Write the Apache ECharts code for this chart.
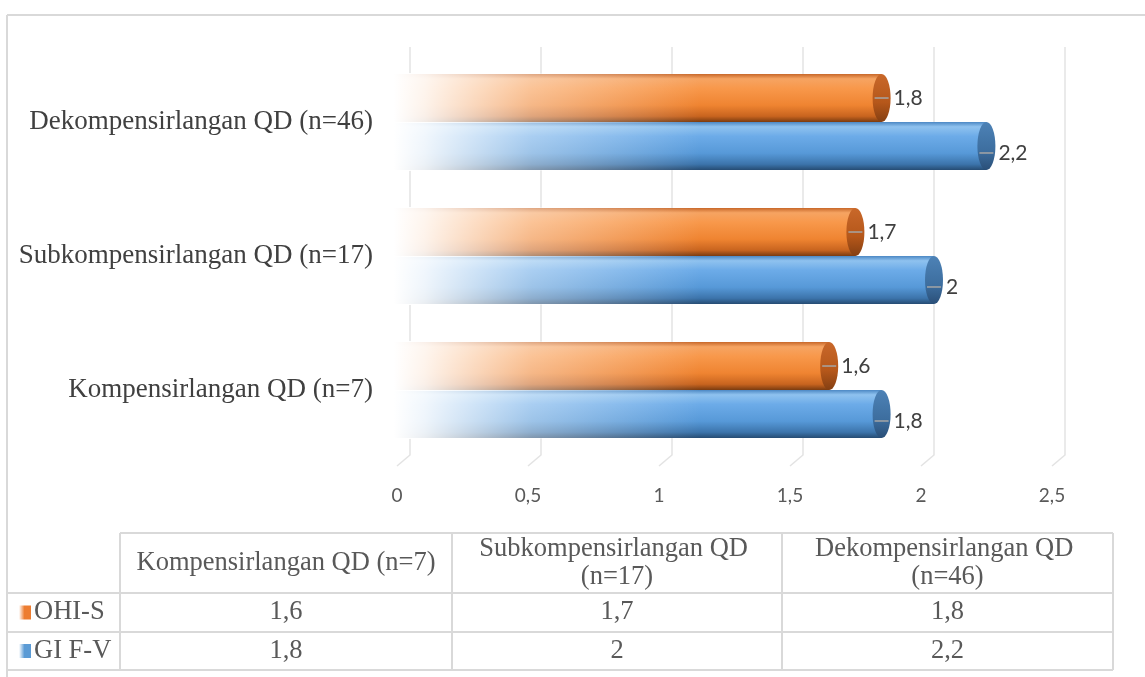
<!DOCTYPE html>
<html>
<head>
<meta charset="utf-8">
<script src="https://cdn.jsdelivr.net/npm/echarts@6/dist/echarts.min.js"></script>
<style>
  html, body { margin: 0; padding: 0; background: #ffffff; }
  #chart { width: 1145px; height: 677px; }
</style>
</head>
<body>
<div id="chart"></div>
<script>
// Groups (bottom to top on the chart, left to right in the table)
const categories = ['Kompensirlangan QD (n=7)', 'Subkompensirlangan QD (n=17)', 'Dekompensirlangan QD (n=46)'];
const seriesNames = ['OHI-S', 'GI F-V'];
const ohisValues = [1.6, 1.7, 1.8];
const gifvValues = [1.8, 2, 2.2];
const xTicks = [0, 0.5, 1, 1.5, 2, 2.5];

const fmt = v => String(v).replace('.', ',');
const SERIF = '"Liberation Serif", "Times New Roman", serif';
const SANS = 'Lato, "Open Sans", sans-serif';

const palettes = {
  orange: {
    body: [
      { offset: 0, color: '#c8682a' }, { offset: 0.1, color: '#f6a462' },
      { offset: 0.3, color: '#f8984b' }, { offset: 0.65, color: '#ef8431' },
      { offset: 0.88, color: '#c8641f' }, { offset: 1, color: '#7a3b10' }
    ],
    face: [
      { offset: 0, color: '#c9682a' }, { offset: 0.6, color: '#b5571a' }, { offset: 1, color: '#843f12' }
    ],
    key: '#ed7d31'
  },
  blue: {
    body: [
      { offset: 0, color: '#4c88c4' }, { offset: 0.1, color: '#8fc2ef' },
      { offset: 0.3, color: '#6cabe8' }, { offset: 0.65, color: '#5799d8' },
      { offset: 0.88, color: '#3c74ab' }, { offset: 1, color: '#264c73' }
    ],
    face: [
      { offset: 0, color: '#4d82b6' }, { offset: 0.6, color: '#3d6e9f' }, { offset: 1, color: '#2a4f78' }
    ],
    key: '#5b9bd5'
  }
};

// Cylinder bar: shaded body that fades out towards zero, elliptical end face, value label
function cylinder(pal, side, labelShift) {
  return function (params, api) {
    const v = api.value(0);
    const c = api.value(1);
    const end = api.coord([v, c]);
    const zero = api.coord([0, c]);
    const band = api.size([0, 1])[1];
    const h = band * 0.358;
    const yTop = side < 0 ? end[1] - h : end[1];
    const cy = yTop + h / 2;
    const x0 = zero[0] - 16;
    const ly = cy + labelShift;
    return {
      type: 'group',
      children: [
        {
          type: 'rect',
          shape: { x: x0, y: yTop, width: end[0] - x0, height: h },
          style: { fill: { type: 'linear', x: 0, y: 0, x2: 0, y2: 1, colorStops: pal.body } }
        },
        {
          type: 'rect',
          shape: { x: x0, y: yTop - 1, width: end[0] - x0, height: h + 2 },
          style: {
            fill: {
              type: 'linear', global: true, x: x0, y: 0, x2: zero[0] + 290, y2: 0,
              colorStops: [
                { offset: 0, color: 'rgba(255,255,255,1)' },
                { offset: 0.1, color: 'rgba(255,255,255,0.9)' },
                { offset: 0.45, color: 'rgba(255,255,255,0.42)' },
                { offset: 1, color: 'rgba(255,255,255,0)' }
              ]
            }
          }
        },
        {
          type: 'circle',
          x: end[0], y: cy, scaleX: 9 / (h / 2),
          shape: { cx: 0, cy: 0, r: h / 2 },
          style: { fill: { type: 'linear', x: 0, y: 0, x2: 0, y2: 1, colorStops: pal.face } }
        },
        {
          type: 'line',
          shape: { x1: end[0] - 7, y1: ly, x2: end[0] + 7, y2: ly },
          style: { stroke: '#a6a6a6', lineWidth: 1.5 }
        },
        {
          type: 'text',
          x: end[0] + 12, y: ly,
          style: {
            text: fmt(v), fill: '#404040', font: '21px ' + SANS,
            align: 'left', verticalAlign: 'middle'
          }
        }
      ]
    };
  };
}

// Back-wall gridlines with a short slanted floor segment
function gridRender(params, api) {
  const p = api.coord([api.value(0), 0]);
  const cs = params.coordSys;
  const bottom = cs.y + cs.height - 2;
  return {
    type: 'polyline',
    shape: { points: [[p[0], cs.y - 8], [p[0], bottom], [p[0] - 13, bottom + 11]] },
    style: { stroke: '#e3e3e3', lineWidth: 1.5, fill: null }
  };
}

// Data table beneath the chart
function buildTable() {
  const line = '#d9d9d9';
  const colX = [120, 452, 782, 1113];
  const rowY = [533, 593, 632, 670];
  const els = [];
  const hl = (x1, x2, y) => els.push({ type: 'line', shape: { x1, y1: y, x2, y2: y }, style: { stroke: line, lineWidth: 2 } });
  const vl = (x, y1, y2) => els.push({ type: 'line', shape: { x1: x, y1, x2: x, y2 }, style: { stroke: line, lineWidth: 2 } });

  // outer frame
  hl(7, 1145, 15);
  vl(7, 15, 677);
  // table grid
  hl(colX[0], colX[3], rowY[0]);
  hl(7, colX[3], rowY[1]);
  hl(7, colX[3], rowY[2]);
  hl(7, colX[3], rowY[3]);
  colX.forEach(x => vl(x, rowY[0], rowY[3]));

  const cellText = (text, cx, cy) => els.push({
    type: 'text', x: cx, y: cy,
    style: {
      text, fill: '#595959', font: '26.5px ' + SERIF, width: 318, overflow: 'break',
      lineHeight: 28, align: 'center', verticalAlign: 'middle'
    }
  });

  categories.forEach((cat, i) => {
    const cx = (colX[i] + colX[i + 1]) / 2;
    cellText(cat, cx, (rowY[0] + rowY[1]) / 2);
    cellText(fmt(ohisValues[i]), cx, (rowY[1] + rowY[2]) / 2);
    cellText(fmt(gifvValues[i]), cx, (rowY[2] + rowY[3]) / 2);
  });

  [palettes.orange, palettes.blue].forEach((pal, r) => {
    const cy = (rowY[r + 1] + rowY[r + 2]) / 2;
    els.push({
      type: 'rect', shape: { x: 19, y: cy - 7, width: 12, height: 14 },
      style: {
        fill: {
          type: 'linear', x: 0, y: 0, x2: 1, y2: 0,
          colorStops: [{ offset: 0, color: '#ffffff' }, { offset: 0.45, color: pal.key }, { offset: 1, color: pal.key }]
        }
      }
    });
    els.push({
      type: 'text', x: 34, y: cy,
      style: { text: seriesNames[r], fill: '#595959', font: '26.5px ' + SERIF, align: 'left', verticalAlign: 'middle' }
    });
  });
  return els;
}

const chart = echarts.init(document.getElementById('chart'), null, { renderer: 'canvas' });

chart.setOption({
  backgroundColor: '#ffffff',
  animation: false,
  grid: { left: 410, right: 80, top: 55, height: 402 },
  xAxis: {
    type: 'value', min: 0, max: 2.5, interval: 0.5,
    axisLine: { show: false }, axisTick: { show: false }, splitLine: { show: false },
    axisLabel: {
      formatter: fmt, color: '#595959', fontSize: 19, fontFamily: SANS,
      margin: 29, padding: [0, 26, 0, 0]
    }
  },
  yAxis: {
    type: 'category', data: categories,
    axisLine: { show: false }, axisTick: { show: false }, splitLine: { show: false },
    axisLabel: {
      color: '#404040', fontSize: 27, fontFamily: SERIF,
      margin: 37, padding: [20, 0, 0, 0]
    }
  },
  series: [
    {
      type: 'custom', name: 'grid', silent: true, z: 1,
      renderItem: gridRender,
      data: xTicks.map(v => [v])
    },
    {
      type: 'custom', name: seriesNames[0], z: 3,
      renderItem: cylinder(palettes.orange, -1, 0),
      data: ohisValues.map((v, i) => [v, i])
    },
    {
      type: 'custom', name: seriesNames[1], z: 2,
      renderItem: cylinder(palettes.blue, 1, 7),
      data: gifvValues.map((v, i) => [v, i])
    }
  ],
  graphic: buildTable()
});
</script>
</body>
</html>
